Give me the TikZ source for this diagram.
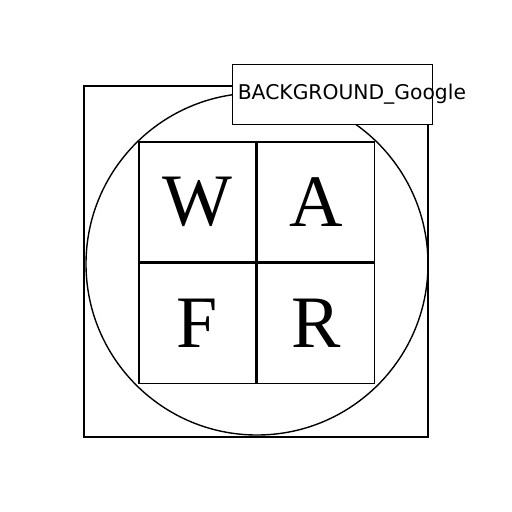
\documentclass[tikz,border=0pt]{standalone}
\usepackage{fontspec}
\setmainfont{Liberation Serif}
\newfontfamily\labelfont{DejaVu Sans}
\usetikzlibrary{positioning}
\tikzset{
  frame/.style={draw=black, line width=1.8pt},
  ring/.style={draw=black, line width=1.4pt},
  cell/.style={draw=black, line width=1.6pt, minimum width=117pt, minimum height=120pt,
               inner sep=0pt, font=\fontsize{74}{74}\selectfont},
  tag/.style={draw=black, fill=white, line width=0.8pt, minimum width=200pt,
              minimum height=60pt, inner sep=0pt},
  tagtext/.style={font=\labelfont\fontsize{20.3}{20}\selectfont, inner sep=0pt, anchor=base west},
}
\begin{document}
\begin{tikzpicture}[x=1pt,y=-1pt]
  \useasboundingbox (0,0) rectangle (512,512);
  % outer frame and ring
  \node[frame, minimum width=344pt, minimum height=351pt, inner sep=0pt] (box) at (256,261.5) {};
  \draw[ring] (257,264) circle[radius=171pt];
  % letter cells
  \node[cell] (w) at (197.5,202) {W};
  \node[cell, right=0pt of w] (a) {A};
  \node[cell, below=0pt of w] (f) {F};
  \node[cell, right=0pt of f] (r) {R};
  % label
  \node[tag] (lbl) at (332,94) {};
  \node[tagtext] (lbltext) at ([xshift=6pt,yshift=-5pt]lbl.west) {BACKGROUND\_Google};
\end{tikzpicture}
\end{document}
